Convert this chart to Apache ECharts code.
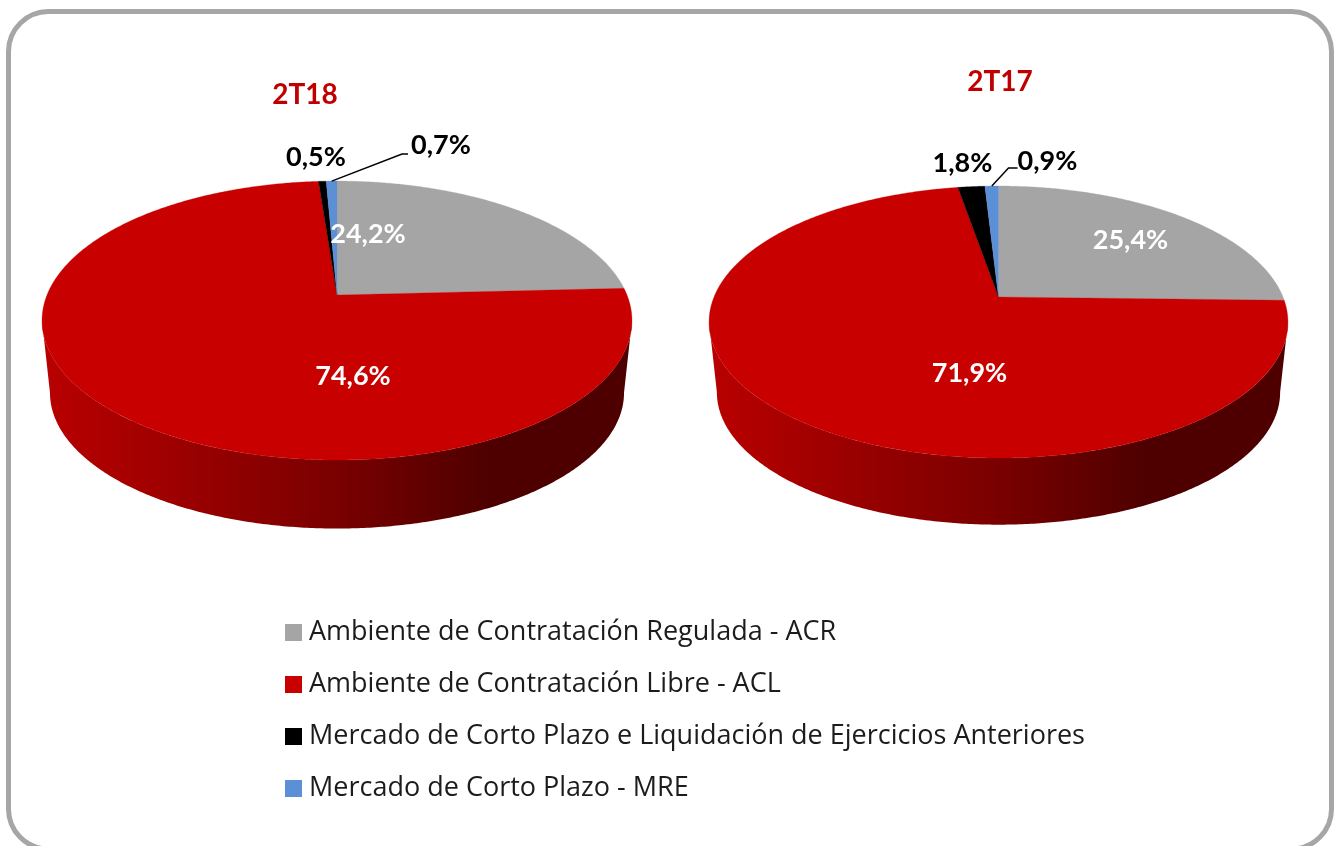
<!DOCTYPE html>
<html>
<head>
<meta charset="utf-8">
<style>html,body{margin:0;padding:0;background:#fff}#c{width:1334px;height:846px}</style>
<script src="https://cdn.jsdelivr.net/npm/echarts@6/dist/echarts.min.js"></script>
</head>
<body>
<div id="c"></div>
<script>
// ---- data ----
const categories = [
  'Ambiente de Contratación Regulada - ACR',
  'Ambiente de Contratación Libre - ACL',
  'Mercado de Corto Plazo e Liquidación de Ejercicios Anteriores',
  'Mercado de Corto Plazo - MRE'
];
const periods = ['2T18', '2T17'];
const share2T18 = [24.2, 74.6, 0.5, 0.7];
const share2T17 = [25.4, 71.9, 1.8, 0.9];

// ---- style / layout ----
const colors = ['#a5a5a5', '#c80000', '#000000', '#5b8fd6'];
const labelColors = ['#ffffff', '#ffffff', '#000000', '#000000'];
const FONT = 'Lato';
const pies = [
  {cx: 337, cy: 295, Rx: 290, Ry: 134.8, k: -0.183, drop: 73, shrink: 0.973, values: share2T18,
   titleX: 305, titleY: 81,
   labelOffsets: [[31, -61], [16, 81], [-21, -138], [104, -150]],
   leaders: {3: [[65, -141], [71, -141]]}},
  {cx: 998.5, cy: 297, Rx: 284.5, Ry: 131.4, k: -0.184, drop: 71, shrink: 0.973, values: share2T17,
   titleX: 1000, titleY: 68,
   labelOffsets: [[132, -57], [-29, 76], [-36, -134], [49, -136]],
   leaders: {3: [[10, -129], [19, -129]]}}
];

function project(p, clockDeg) {
  const a = clockDeg * Math.PI / 180;
  const sx = Math.sin(a), sy = -Math.cos(a);
  const w = 1 + p.k * sy;
  return [p.Rx * sx / w, p.Ry * sy / w];
}
function shade(hex, f) {
  const n = parseInt(hex.slice(1), 16);
  const ch = s => Math.round(((n >> s) & 255) * f);
  return 'rgb(' + ch(16) + ',' + ch(8) + ',' + ch(0) + ')';
}
function sliceRange(p, idx) {
  const total = p.values.reduce((a, b) => a + b, 0);
  let before = 0;
  for (let i = 0; i < idx; i++) before += p.values[i];
  return [before / total * 360, (before + p.values[idx]) / total * 360];
}
function rim(p, a0, a1) {
  const steps = Math.max(2, Math.ceil((a1 - a0) / 0.5));
  const pts = [];
  for (let i = 0; i <= steps; i++) pts.push(project(p, a0 + (a1 - a0) * i / steps));
  return pts;
}

function renderSlice(catIdx) {
  return function (params, api) {
    const p = pies[api.value(0)];
    const [a0, a1] = sliceRange(p, catIdx);
    const base = colors[catIdx];
    const children = [];

    // side wall: only the part of the slice on the visible front of the rim
    const tangent = Math.acos(p.k) * 180 / Math.PI;
    const w0 = Math.max(a0, tangent), w1 = Math.min(a1, 360 - tangent);
    if (w1 > w0) {
      const front = rim(p, w0, w1);
      const upper = front.map(q => [p.cx + q[0], p.cy + q[1]]);
      const lower = front.map(q => [p.cx + q[0] * p.shrink, p.cy + p.drop + q[1] * p.shrink]);
      const wallFill = new echarts.graphic.LinearGradient(p.cx - p.Rx, 0, p.cx + p.Rx, 0, [
        {offset: 0, color: shade(base, 0.92)},
        {offset: 0.5, color: shade(base, 0.61)},
        {offset: 0.76, color: shade(base, 0.39)},
        {offset: 1, color: shade(base, 0.39)}
      ], true);
      children.push({type: 'polygon', z2: 1, shape: {points: upper.concat(lower.reverse())}, style: {fill: wallFill}});
    }

    const topPts = rim(p, a0, a1).map(q => [p.cx + q[0], p.cy + q[1]]);
    children.push({type: 'polygon', z2: 10, shape: {points: [[p.cx, p.cy]].concat(topPts)},
      style: {fill: base, stroke: base, lineWidth: 0.3}});

    const off = p.labelOffsets[catIdx];
    children.push({
      type: 'text', z2: 30, x: p.cx + off[0], y: p.cy + off[1],
      style: {
        text: api.value(1).toFixed(1).replace('.', ',') + '%',
        fontFamily: FONT, fontWeight: 'bold', fontSize: 27,
        fill: labelColors[catIdx], align: 'center', verticalAlign: 'middle'
      }
    });
    const lead = p.leaders[catIdx];
    if (lead) {
      const m = project(p, (a0 + a1) / 2);
      const pts = [[p.cx + m[0] * 0.98, p.cy + m[1]]].concat(lead.map(o => [p.cx + o[0], p.cy + o[1]]));
      children.push({type: 'polyline', z2: 20, shape: {points: pts}, style: {stroke: '#000', lineWidth: 1.5, fill: 'none'}});
    }
    return {type: 'group', children: children};
  };
}

const chart = echarts.init(document.getElementById('c'), null, {renderer: 'canvas'});
chart.setOption({
  animation: false,
  backgroundColor: '#ffffff',
  title: pies.map((p, i) => ({
    text: periods[i], left: p.titleX - 5, top: p.titleY - 5, textAlign: 'center',
    textStyle: {fontFamily: FONT, fontWeight: 'bold', fontSize: 28, color: '#c00000'}
  })),
  legend: {
    orient: 'vertical', left: 280, top: 614, itemWidth: 17, itemHeight: 17, itemGap: 25,
    icon: 'rect', selectedMode: false, data: categories,
    textStyle: {fontFamily: 'Open Sans', fontSize: 27, color: '#1c1c1c', padding: [0, 0, 0, 2]}
  },
  graphic: [{
    type: 'rect', z: -10, silent: true, x: 8.5, y: 11.5,
    shape: {width: 1323, height: 837.5, r: 40},
    style: {fill: '#fff', stroke: '#a6a6a6', lineWidth: 5}
  }],
  series: categories.map((name, c) => ({
    type: 'custom', name: name, coordinateSystem: 'none', silent: true,
    itemStyle: {color: colors[c]},
    data: [[0, share2T18[c]], [1, share2T17[c]]],
    renderItem: renderSlice(c)
  }))
});
</script>
</body>
</html>
